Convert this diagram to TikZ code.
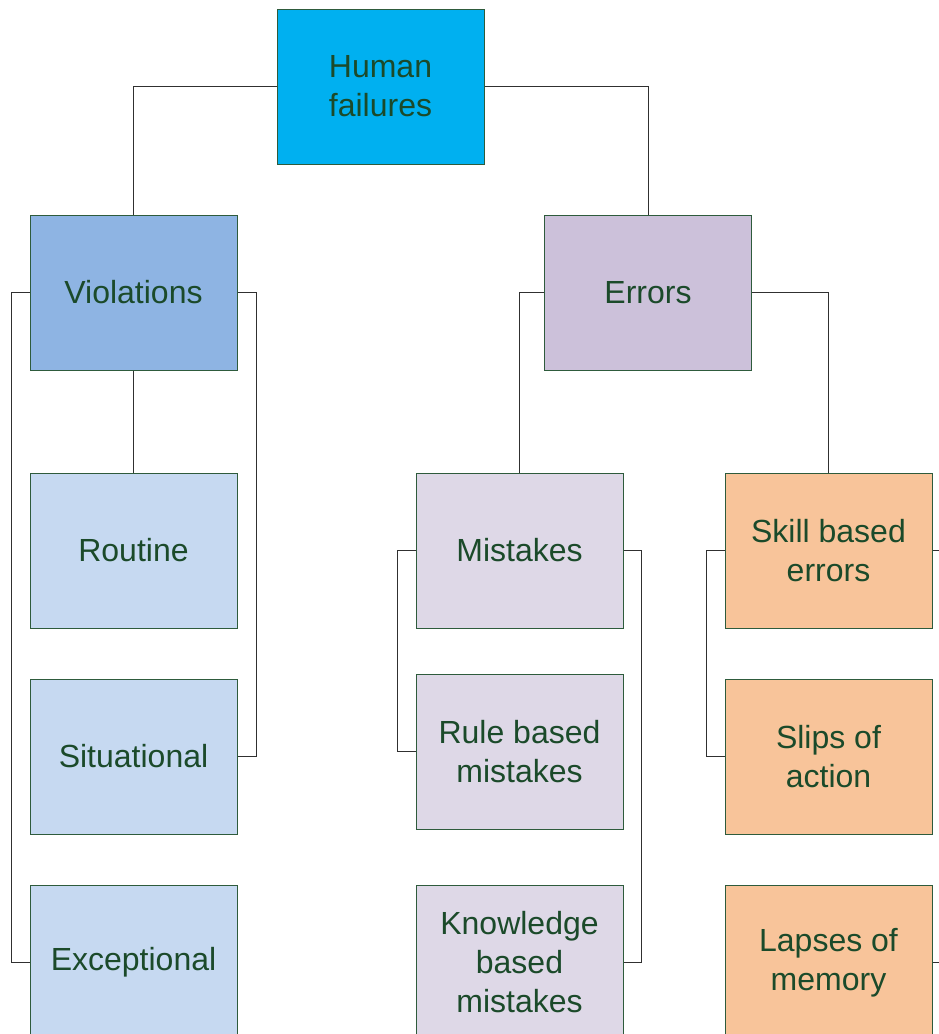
\documentclass[tikz,border=0pt]{standalone}
\usepackage{fontspec}
\setmainfont{Liberation Sans}
\begin{document}
\begin{tikzpicture}[x=1pt,y=-1pt,
  box/.style={draw=boxedge, line width=1pt, minimum width=207pt, minimum height=155pt,
    inner sep=0pt, align=center, text=labelgreen,
    font=\fontsize{32}{39}\selectfont},
  link/.style={draw=linkgray, line width=1pt}]
\definecolor{boxedge}{HTML}{2E5B3C}
\definecolor{labelgreen}{HTML}{1B4A2A}
\definecolor{linkgray}{HTML}{303030}
\definecolor{topblue}{HTML}{00B0F0}
\definecolor{violblue}{HTML}{8EB4E3}
\definecolor{lightblue}{HTML}{C6D9F1}
\definecolor{errlilac}{HTML}{CCC1DA}
\definecolor{lightlilac}{HTML}{DED8E7}
\definecolor{peach}{HTML}{F8C49A}
\useasboundingbox (0,0) rectangle (939,1034);
\clip (0,0) rectangle (939,1034);

% boxes
\node[box, fill=topblue]   (hf)  at (380.5, 86.5)  {Human\\failures};
\node[box, fill=violblue]  (vio) at (133.5, 292.5) {Violations};
\node[box, fill=errlilac]  (err) at (648, 292.5)   {Errors};
\node[box, fill=lightblue] (rou) at (133.5, 550.5) {Routine};
\node[box, fill=lightblue] (sit) at (133.5, 756.5) {Situational};
\node[box, fill=lightblue] (exc) at (133.5, 962.5) {Exceptional};
\node[box, fill=lightlilac] (mis) at (519.5, 550.5) {Mistakes};
\node[box, fill=lightlilac] (rul) at (519.5, 751.5) {Rule based\\mistakes};
\node[box, fill=lightlilac] (kno) at (519.5, 962.5) {Knowledge\\based\\mistakes};
\node[box, fill=peach]     (ski) at (828.5, 550.5) {Skill based\\errors};
\node[box, fill=peach]     (sli) at (828.5, 756.5) {Slips of\\action};
\node[box, fill=peach]     (lap) at (828.5, 962.5) {Lapses of\\memory};

% free ends running past the right edge
\coordinate (skiout) at ([xshift=20pt]ski.east);
\coordinate (lapout) at ([xshift=20pt]lap.east);

% connectors
\draw[link] (hf.west) -| (vio.north);
\draw[link] (hf.east) -| (err.north);
\draw[link] (vio.south) -- (rou.north);
\draw[link] (vio.west) -- ++(-18,0) |- (exc.west);
\draw[link] (vio.east) -- ++(19,0) |- (sit.east);
\draw[link] (err.west) -| (mis.north);
\draw[link] (err.east) -| (ski.north);
\draw[link] (mis.west) -- ++(-18,0) |- (rul.west);
\draw[link] (mis.east) -- ++(18,0) |- (kno.east);
\draw[link] (ski.west) -- ++(-18,0) |- (sli.west);
\draw[link] (ski.east) -- (skiout);
\draw[link] (lap.east) -- (lapout);
\end{tikzpicture}
\end{document}
